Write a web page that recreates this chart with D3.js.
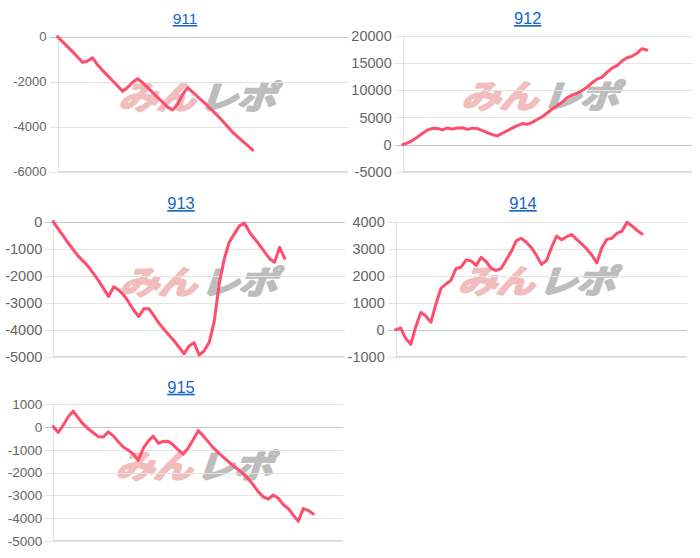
<!DOCTYPE html>
<html>
<head>
<meta charset="utf-8">
<script src="https://cdn.jsdelivr.net/npm/d3@7"></script>
<style>
  html, body { margin: 0; padding: 0; background: #fff; }
  svg { display: block; }
</style>
</head>
<body>
<svg id="chart" width="700" height="558"></svg>
<script>
// ---- data ----
const titles = ["911", "912", "913", "914", "915"];
const xCount = 59; // number of x categories on every chart

const s911 = [0, -221, -441, -664, -903, -1143, -1083, -940, -1248, -1498,
  -1730, -1961, -2192, -2424, -2258, -2028, -1867, -2047, -2264, -2481,
  -2697, -2913, -3129, -3253, -2991, -2564, -2260, -2464, -2669, -2872,
  -3078, -3298, -3518, -3754, -4003, -4253, -4457, -4651, -4846, -5040];

const s912 = [0, 320, 784, 1414, 2073, 2690, 2983, 2969, 2699, 3066,
  2844, 3064, 3089, 2800, 3022, 2953, 2553, 2180, 1837, 1604,
  2084, 2564, 3044, 3495, 3861, 3718, 4098, 4611, 5127, 5820,
  6542, 7157, 7801, 8634, 9098, 9481, 9939, 10582, 11384, 12051,
  12417, 13306, 14074, 14554, 15388, 15985, 16254, 16809, 17660, 17420];

const s913 = [0, -276, -530, -799, -1047, -1282, -1468, -1673, -1922, -2184,
  -2477, -2772, -2412, -2531, -2717, -2982, -3278, -3512, -3228, -3221,
  -3476, -3756, -3984, -4195, -4408, -4650, -4889, -4600, -4480, -4938,
  -4783, -4468, -3692, -2284, -1372, -749, -452, -155, -50, -384,
  -622, -871, -1120, -1370, -1500, -950, -1358];

const s914 = [0, 60, -330, -543, 111, 640, 506, 272, 952, 1526,
  1694, 1833, 2269, 2312, 2587, 2548, 2381, 2680, 2517, 2268,
  2193, 2274, 2589, 2905, 3300, 3380, 3232, 3040, 2753, 2420,
  2564, 3048, 3465, 3333, 3444, 3523, 3348, 3173, 2990, 2770,
  2470, 3034, 3345, 3387, 3565, 3647, 3980, 3843, 3683, 3543];

const s915 = [15, -240, 88, 455, 700, 397, 125, -78, -252, -425,
  -438, -215, -389, -644, -875, -1019, -1193, -1465, -931, -616,
  -400, -713, -632, -623, -797, -1004, -1188, -915, -545, -158,
  -397, -653, -907, -1124, -1324, -1515, -1706, -1880, -2063, -2281,
  -2543, -2848, -3071, -3172, -2990, -3135, -3410, -3583, -3873, -4147,
  -3590, -3668, -3824];

const ticks911 = [0, -2000, -4000, -6000];
const ticks912 = [20000, 15000, 10000, 5000, 0, -5000];
const ticks913 = [0, -1000, -2000, -3000, -4000, -5000];
const ticks914 = [4000, 3000, 2000, 1000, 0, -1000];
const ticks915 = [1000, 0, -1000, -2000, -3000, -4000, -5000];

const series = [s911, s912, s913, s914, s915];
const tickSets = [ticks911, ticks912, ticks913, ticks914, ticks915];

// ---- layout ----
const panels = [
  { left: 57.5, right: 348, top: 36.7, bottom: 171.7, tx: 185, ty: 24, ts: 15.5, fs: 13, wx: 201, wy: 95 },
  { left: 402.7, right: 691.7, top: 36, bottom: 171.7, tx: 527.7, ty: 24, ts: 16.5, fs: 14.5, wx: 544, wy: 94 },
  { left: 53.3, right: 345, top: 221.7, bottom: 356.7, tx: 181, ty: 209, ts: 16.5, fs: 14.5, wx: 202.5, wy: 280 },
  { left: 395.7, right: 687.3, top: 221.7, bottom: 356.7, tx: 523, ty: 209, ts: 16.5, fs: 14.5, wx: 540.5, wy: 279 },
  { left: 53.3, right: 343.3, top: 404.3, bottom: 540.7, tx: 181, ty: 392.7, ts: 16.5, fs: 13.5, wx: 198, wy: 464 }
];

const svg = d3.select("#chart");
const lineColor = "#ff4d6d";

panels.forEach((p, k) => {
  const ticks = tickSets[k];
  const data = series[k];
  const x = d3.scaleLinear().domain([0, xCount - 1]).range([p.left, p.right]);
  const y = d3.scaleLinear().domain([d3.min(ticks), d3.max(ticks)]).range([p.bottom, p.top]);
  const g = svg.append("g");

  // watermark
  const wm = g.append("g")
    .attr("transform", `translate(${p.wx},${p.wy}) scale(1.15,0.95) skewX(-16)`);
  const wt = wm.append("text")
    .attr("text-anchor", "middle")
    .attr("dominant-baseline", "central")
    .style("font-family", "'Noto Sans CJK JP', sans-serif")
    .style("font-weight", "700")
    .style("font-size", "34px")
    .style("letter-spacing", "-1px")
    .attr("stroke-width", 2.2)
    .attr("stroke-linejoin", "round");
  wt.append("tspan").attr("fill", "#f1bdbd").attr("stroke", "#f1bdbd").text("みん");
  wt.append("tspan").attr("fill", "#bdbdbd").attr("stroke", "#bdbdbd").attr("dx", 4).text("レポ");

  // grid lines
  const grid = g.append("g")
    .attr("transform", `translate(${p.left},0)`)
    .call(d3.axisLeft(y).tickValues(ticks).tickSize(-(p.right - p.left)).tickFormat(""));
  grid.select(".domain").remove();
  grid.selectAll(".tick line")
    .attr("stroke", d => d === 0 ? "#c4c4c4" : "#e4e4e4")
    .attr("shape-rendering", "crispEdges");

  // y axis with ticks and labels
  const ax = g.append("g")
    .attr("transform", `translate(${p.left},0)`)
    .call(d3.axisLeft(y).tickValues(ticks).tickSize(8).tickPadding(3).tickSizeOuter(0)
      .tickFormat(d => String(d)));
  ax.select(".domain").attr("stroke", "#e2e2e2").attr("shape-rendering", "crispEdges");
  ax.selectAll(".tick line").attr("stroke", d => d === 0 ? "#c4c4c4" : "#e4e4e4").attr("shape-rendering", "crispEdges");
  ax.selectAll(".tick text")
    .attr("fill", "#666")
    .style("font-family", "'Liberation Sans', Arial, sans-serif")
    .style("font-size", p.fs + "px");

  // bottom axis line
  g.append("line")
    .attr("x1", p.left).attr("x2", p.right)
    .attr("y1", p.bottom).attr("y2", p.bottom)
    .attr("stroke", "#d6d6d6").attr("shape-rendering", "crispEdges");

  // data line
  g.append("path")
    .datum(data)
    .attr("fill", "none")
    .attr("stroke", lineColor)
    .attr("stroke-width", 3)
    .attr("stroke-linejoin", "round")
    .attr("stroke-linecap", "round")
    .attr("d", d3.line().x((d, i) => x(i)).y(d => y(d)));

  // title
  g.append("text")
    .attr("x", p.tx).attr("y", p.ty)
    .attr("text-anchor", "middle")
    .attr("fill", "#1466cc")
    .style("font-family", "'Liberation Sans', Arial, sans-serif")
    .style("font-size", p.ts + "px")
    .style("text-decoration", "underline")
    .text(titles[k]);
});
</script>
</body>
</html>
